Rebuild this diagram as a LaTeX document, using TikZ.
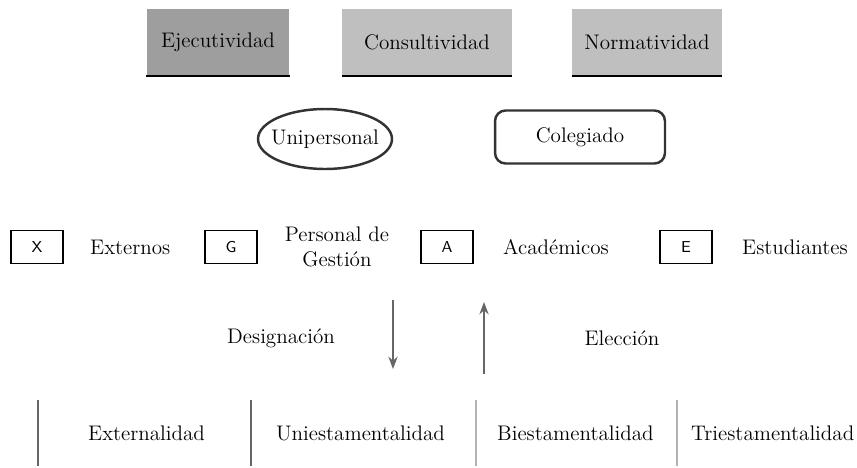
\documentclass[tikz,border=0pt]{standalone}
\usepackage{tikz}
\usetikzlibrary{arrows.meta}

\begin{document}
\begin{tikzpicture}[
		x=0.02cm, y=-0.02cm,
		>=Stealth,
		every node/.style={font=\fontsize{12}{14}\selectfont},
		funcion/.style={
			fill=black!25,
			minimum height=1.34cm,
			inner sep=0pt
		},
		estamento/.style={
			draw,
			thick,
			minimum width=1.04cm,
			minimum height=0.66cm,
			font=\sffamily\small
		},
		organo/.style={draw=black!80, line width=1.4pt},
		barra/.style={line width=1.6pt, draw=black!60},
		flecha/.style={->, line width=0.9pt, draw=black!60}
		]
		\useasboundingbox (0,0) rectangle (857,467);
		
		% Functions on top
		\node[funcion, fill=black!38, minimum width=2.86cm] (eje) at (218,42) {Ejecutividad};
		\node[funcion, minimum width=3.4cm] (con) at (427,42) {Consultividad};
		\node[funcion, minimum width=3.0cm] (nor) at (647,42) {Normatividad};
		\foreach \n in {eje,con,nor}
		\draw[line width=1.2pt] (\n.south west) -- (\n.south east);
		
		% Type of body
		\node[inner sep=0pt] (uni) at (325,139) {Unipersonal};
		\draw[organo] (uni.center) ellipse [x radius=1.34cm, y radius=0.6cm];
		\node[organo, rounded corners=6pt, minimum width=3.4cm, minimum height=1.06cm] (col) at (580,137) {Colegiado};
		
		% Estates
		\node[estamento] (x) at (37,247) {X};
		\node[anchor=west] (ext) at (84,247) {Externos};
		\node[estamento] (g) at (231,247) {G};
		\node[align=center, inner sep=0pt] (pg) at (337,247) {Personal de\\Gestión};
		\node[estamento] (a) at (447,247) {A};
		\node[anchor=west] (aca) at (497,247) {Académicos};
		\node[estamento] (e) at (686,247) {E};
		\node[anchor=west] (est) at (736,247) {Estudiantes};
		
		% Designation and election
		\coordinate (d1) at (393,300);
		\coordinate (d2) at (393,369);
		\coordinate (u1) at (484,374);
		\coordinate (u2) at (484,302);
		\draw[flecha] (d1) -- (d2);
		\draw[flecha] (u1) -- (u2);
		\node (des) at (281,338) {Designación};
		\node (ele) at (622,338) {Elección};
		
		% Estamentality
		\draw[barra] (38,400) -- (38,466);
		\draw[barra] (251,400) -- (251,466);
		\draw[barra, draw=black!30] (476,400) -- (476,466);
		\draw[barra, draw=black!30] (677,400) -- (677,466);
		\node[anchor=west] (exl) at (82,433) {Externalidad};
		\node[anchor=west] (unl) at (270,433) {Uniestamentalidad};
		\node[anchor=west] (bil) at (491,433) {Biestamentalidad};
		\node[anchor=west] (tri) at (685,433) {Triestamentalidad};
		
\end{tikzpicture}
\end{document}
